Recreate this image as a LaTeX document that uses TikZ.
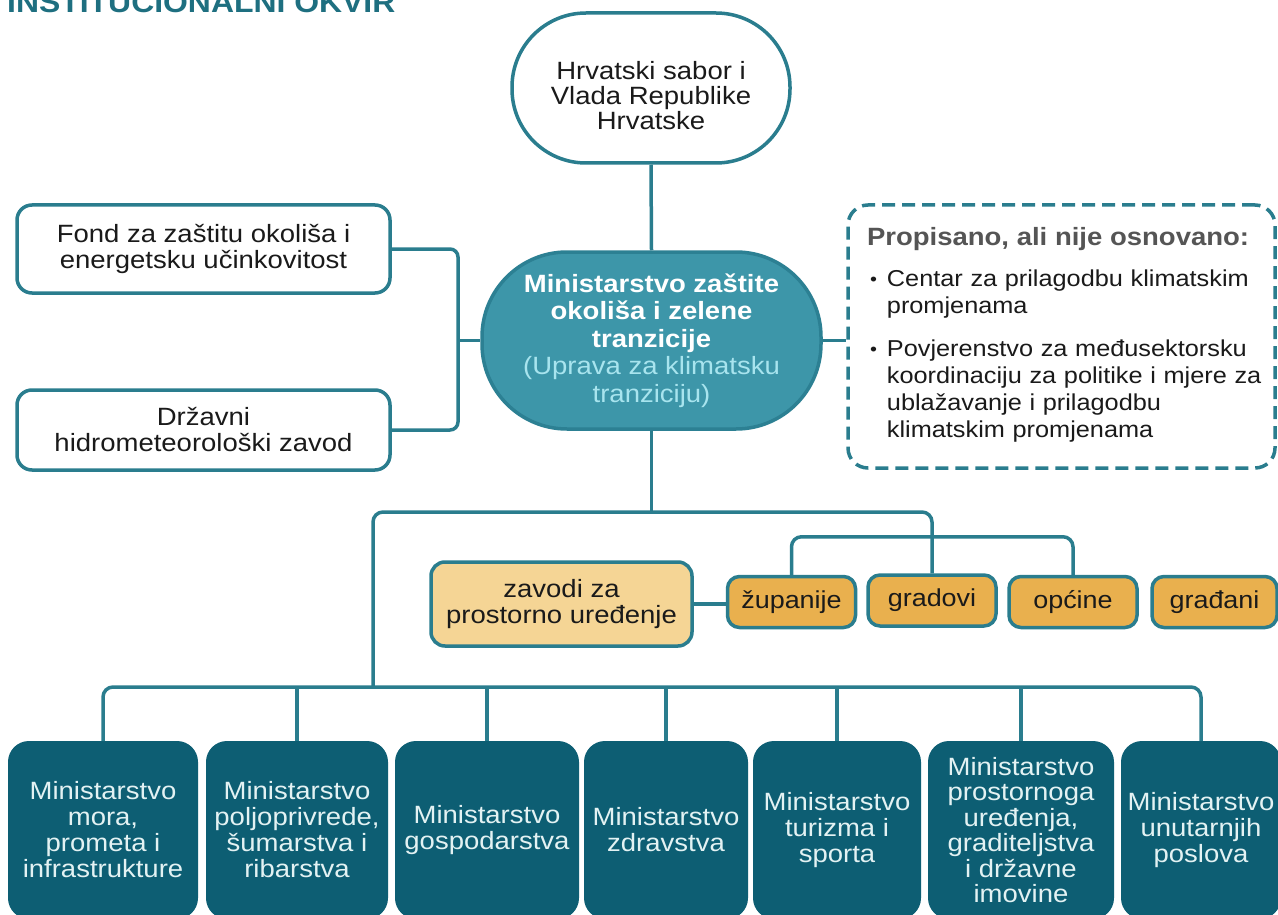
\documentclass[tikz,border=0pt]{standalone}
\usepackage{fontspec}
\setmainfont{Liberation Sans}[FakeStretch=1.1]
\usetikzlibrary{calc}
\definecolor{lineteal}{HTML}{2A7D8E}
\definecolor{centerfill}{HTML}{3D96A9}
\definecolor{centerborder}{HTML}{2C8093}
\definecolor{lightcyan}{HTML}{A8E4EE}
\definecolor{bottomfill}{HTML}{0D5E73}
\definecolor{bottomtext}{HTML}{E3F2F3}
\definecolor{paleyellow}{HTML}{F5D595}
\definecolor{golden}{HTML}{E9B04E}
\definecolor{titleteal}{HTML}{1E6F80}
\definecolor{headgray}{HTML}{555555}
\definecolor{textdark}{HTML}{1A1A1A}
\newcommand{\myfs}[2]{\fontsize{#1}{#2}\selectfont}
\newcommand{\smallbullet}{\hspace*{3pt}\raisebox{1pt}{\myfs{18}{18}\textbullet}}
\begin{document}
\begin{tikzpicture}[x=1pt,y=-1pt,
  conn/.style={draw=lineteal, line width=3.5pt},
  whitebox/.style={draw=lineteal, line width=3.5pt, fill=white, rounded corners=15pt,
    minimum width=373pt, align=center, font=\myfs{25}{26}, text=textdark},
  goldbox/.style={draw=lineteal, line width=3.5pt, fill=golden, rounded corners=12pt,
    minimum height=51pt, inner xsep=2pt, align=center, font=\myfs{24.5}{26}, text=textdark},
  ministry/.style={draw=bottomfill, line width=2pt, fill=bottomfill, rounded corners=20pt,
    minimum height=176pt, inner xsep=2pt, align=center, font=\myfs{25}{26}, text=bottomtext}
]
\useasboundingbox (0,0) rectangle (1278,915);
\clip (0,0) rectangle (1278,915);
\fill[white] (0,0) rectangle (1278,915);

% title (cut off at the top edge, as in the reference)
\node[anchor=base west, inner sep=0pt, font=\bfseries\myfs{29}{30}, text=titleteal] (title) at (7,13) {INSTITUCIONALNI OKVIR};

% top node
\node[draw=lineteal, line width=3.5pt, fill=white, rounded corners=74pt,
      minimum width=278pt, minimum height=150pt, align=center, font=\myfs{25}{25}, text=textdark]
      (top) at (651,88) {\rule{0pt}{33pt}Hrvatski sabor i\\Vlada Republike\\Hrvatske};

% left boxes
\node[whitebox, minimum height=88pt] (fond) at (203.5,249) {Fond za zaštitu okoliša i\\energetsku učinkovitost};
\node[whitebox, minimum height=80pt] (dhmz) at (203.5,430) {Državni\\hidrometeorološki zavod};

% central ministry
\node[draw=centerborder, line width=3.5pt, fill=centerfill, rounded corners=85pt,
      minimum width=339pt, minimum height=177pt, align=center, font=\myfs{25}{27.5}, text=white]
      (min) at (651.5,340.5)
      {\textbf{Ministarstvo zaštite}\\\textbf{okoliša i zelene}\\\textbf{tranzicije}\\
       {\color{lightcyan}(Uprava za klimatsku}\\{\color{lightcyan}tranziciju)}};

% dashed box
\node[draw=lineteal, line width=3.5pt, dash pattern=on 13pt off 7pt, rounded corners=20pt,
      minimum width=427pt, minimum height=263pt, inner xsep=19pt, text width=389pt,
      align=left, font=\myfs{23}{27}, text=textdark]
      (prop) at (1061.5,336.5)
      {\begin{tabular}{@{}l@{\hspace{10pt}}l@{}}
       \multicolumn{2}{@{}l@{}}{\color{headgray}\bfseries\myfs{25}{27}Propisano, ali nije osnovano:}\\[14pt]
       \smallbullet & Centar za prilagodbu klimatskim\\
        & promjenama\\[16pt]
       \smallbullet & Povjerenstvo za međusektorsku\\
        & koordinaciju za politike i mjere za\\
        & ublažavanje i prilagodbu\\
        & klimatskim promjenama
       \end{tabular}};

% spatial planning and local level
\node[draw=lineteal, line width=3.5pt, fill=paleyellow, rounded corners=14pt,
      minimum width=261pt, minimum height=84pt, align=center, font=\myfs{25}{26}, text=textdark]
      (zav) at (561.5,604) {zavodi za\\prostorno uređenje};
\node[goldbox, minimum width=128pt] (zup) at (791.5,602) {županije};
\node[goldbox, minimum width=128pt] (grad) at (932,600.5) {gradovi};
\node[goldbox, minimum width=128pt] (opc) at (1073,602) {općine};
\node[goldbox, minimum width=125pt] (gra) at (1214.5,602) {građani};

% ministries
\node[ministry, minimum width=188pt] (m1) at (103,830) {Ministarstvo\\mora,\\prometa i\\infrastrukture};
\node[ministry, minimum width=180pt] (m2) at (297,830) {Ministarstvo\\poljoprivrede,\\šumarstva i\\ribarstva};
\node[ministry, minimum width=182pt] (m3) at (487,830) {Ministarstvo\\gospodarstva};
\node[ministry, minimum width=162pt] (m4) at (666,830) {Ministarstvo\\zdravstva};
\node[ministry, minimum width=166pt] (m5) at (837,830) {Ministarstvo\\turizma i\\sporta};
\node[ministry, minimum width=184pt, font=\myfs{25}{25.5}] (m6) at (1021,830) {Ministarstvo\\prostornoga\\uređenja,\\graditeljstva\\i državne\\imovine};
\node[ministry, minimum width=158pt] (m7) at (1201,830) {Ministarstvo\\unutarnjih\\poslova};

% connectors
\coordinate (lb) at (458,340.5);
\coordinate (j1) at (651.5,512);
\coordinate (b0) at (373,687);
\draw[conn] (top.south) -- (min.north);
\draw[conn, rounded corners=8pt] (fond.east) -| (lb) |- (dhmz.east);
\draw[conn] (lb) -- (min.west);
\draw[conn] (min.east) -- (min.east -| prop.west);
\draw[conn] (min.south) -- (j1);
\draw[conn, rounded corners=10pt] (grad.north) |- (j1) -| (b0);
\draw[conn, rounded corners=10pt] (zup.north) -- ++(0,-38) -| (opc.north);
\draw[conn] (zav.east) -- (zav.east -| zup.west);
\draw[conn, rounded corners=10pt] (m1.north) |- (b0) -| (m7.north);
\foreach \m in {m2,m3,m4,m5,m6} \draw[conn] (\m.north) -- (\m.north |- b0);
\end{tikzpicture}
\end{document}
